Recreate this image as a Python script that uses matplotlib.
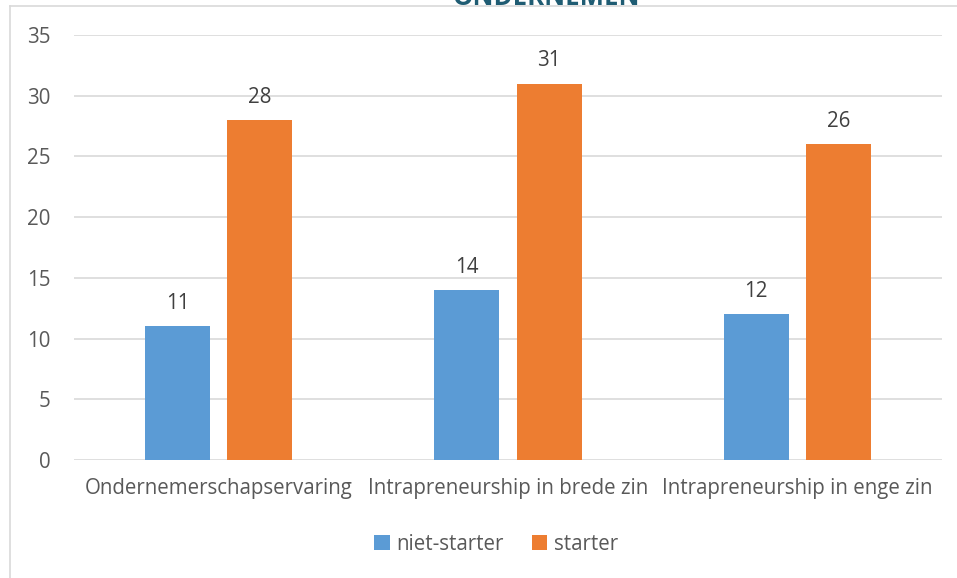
import matplotlib
matplotlib.use("Agg")
import matplotlib.pyplot as plt
import numpy as np
from matplotlib.lines import Line2D

categories = ["Ondernemerschapservaring", "Intrapreneurship in brede zin", "Intrapreneurship in enge zin"]
series_names = ["niet-starter", "starter"]
niet_starter = [11, 14, 12]
starter = [28, 31, 26]
yticks = [0, 5, 10, 15, 20, 25, 30, 35]

plt.rcParams['font.family'] = ['Open Sans', 'DejaVu Sans']
FS = 14.8

W, H = 957, 578
fig = plt.figure(figsize=(W/100, H/100), dpi=100)
ax = fig.add_axes([74/W, 1-460/H, (942-74)/W, (460-35)/H])

x = np.arange(len(categories))
bw = 0.225
off = 0.142
b1 = ax.bar(x - off, niet_starter, bw, color="#5B9BD5", label=series_names[0], zorder=3)
b2 = ax.bar(x + off, starter, bw, color="#ED7D31", label=series_names[1], zorder=3)

for bars, vals in ((b1, niet_starter), (b2, starter)):
    for r, v in zip(bars, vals):
        ax.annotate(str(v), (r.get_x() + r.get_width()/2, v), xytext=(0, 16.5),
                    textcoords="offset points", ha="center", va="center",
                    fontsize=FS, color="#404040")

ax.set_xlim(-0.5, 2.5)
ax.set_ylim(0, 35)
ax.set_yticks(yticks)
ax.set_xticks(x)
ax.set_xticklabels(categories, fontsize=FS, color="#595959")
ax.tick_params(axis='y', labelsize=FS, labelcolor="#595959", length=0, pad=17)
ax.tick_params(axis='x', length=0, pad=13)
ax.grid(axis='y', color="#D9D9D9", linewidth=1.2, zorder=0)
for s in ax.spines.values():
    s.set_visible(False)

leg = fig.legend(handles=[b1, b2], labels=series_names, loc="center",
                 bbox_to_anchor=(496/W, 1-544/H), ncol=2, frameon=False,
                 fontsize=FS, handlelength=0.75, handleheight=0.75,
                 handletextpad=0.3, columnspacing=1.4)
for t in leg.get_texts():
    t.set_color("#595959")

# outer frame lines (chart border, cropped)
fig.add_artist(Line2D([10/W, 10/W], [0, 1-6/H], color="#D9D9D9", lw=1.2, transform=fig.transFigure))
fig.add_artist(Line2D([10/W, 1], [1-6/H, 1-6/H], color="#D9D9D9", lw=1.2, transform=fig.transFigure))

# cropped heading text at top (cut off in the reference as well)
fig.text(546/W, 1-5/H, "ONDERNEMEN", ha="center", va="baseline", fontsize=18.5,
         fontweight="bold", color="#1F5C73")

fig.savefig("out.png", dpi=100)
